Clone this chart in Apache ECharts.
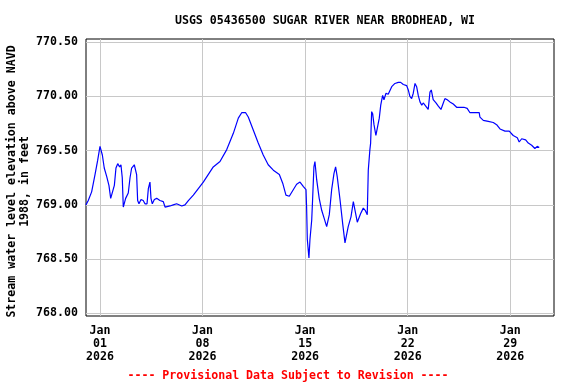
<!DOCTYPE html>
<html>
<head>
<meta charset="utf-8">
<script src="https://cdn.jsdelivr.net/npm/echarts@6/dist/echarts.min.js"></script>
<style>html,body{margin:0;padding:0;background:#fff}#c{width:576px;height:384px}</style>
</head>
<body>
<div id="c"></div>
<script>
// Time as day-of-January 2026 (1.0 = Jan 01 00:00), stage in feet
const dayOfJan = [0.04,0.20,0.43,0.66,0.84,1.00,1.07,1.16,1.29,1.46,1.61,1.73,1.84,1.98,2.09,2.21,2.34,2.43,2.52,2.59,2.66,2.75,2.93,3.05,3.16,3.34,3.44,3.50,3.57,3.66,3.80,3.95,4.07,4.21,4.30,4.41,4.48,4.57,4.71,4.87,5.09,5.32,5.44,5.55,5.78,6.00,6.23,6.58,6.80,7.03,7.37,7.71,8.05,8.73,9.19,9.65,10.10,10.44,10.67,10.94,11.12,11.46,11.80,12.14,12.48,12.83,13.24,13.47,13.69,13.92,14.19,14.42,14.65,14.87,15.06,15.10,15.15,15.26,15.33,15.45,15.51,15.60,15.67,15.79,15.96,16.13,16.29,16.47,16.65,16.81,16.97,17.08,17.19,17.38,17.56,17.72,17.94,18.13,18.29,18.42,18.56,18.65,18.79,18.97,19.10,19.24,19.31,19.42,19.47,19.54,19.61,19.70,19.83,19.92,20.06,20.16,20.29,20.38,20.52,20.67,20.91,21.13,21.36,21.52,21.70,21.93,22.04,22.15,22.27,22.38,22.50,22.61,22.72,22.84,22.96,23.06,23.18,23.29,23.40,23.52,23.61,23.74,23.93,24.09,24.27,24.43,24.54,24.70,24.88,25.11,25.34,25.57,25.84,26.06,26.25,26.59,26.88,26.93,27.16,27.50,27.84,28.07,28.30,28.64,28.93,29.20,29.48,29.61,29.78,30.05,30.23,30.46,30.68,30.84,30.98];
const stage = [769.00,769.04,769.12,769.28,769.41,769.54,769.55,769.46,769.34,769.26,769.18,769.06,769.05,769.18,769.34,769.38,769.35,769.37,769.25,768.98,768.97,769.06,769.11,769.25,769.34,769.37,769.38,769.28,769.04,769.01,769.05,769.04,769.01,769.01,769.15,769.21,769.06,769.01,769.05,769.06,769.04,769.03,768.98,768.97,768.99,769.00,769.01,768.99,769.00,769.04,769.09,769.15,769.21,769.35,769.40,769.51,769.66,769.80,769.85,769.85,769.81,769.69,769.57,769.46,769.37,769.32,769.28,769.20,769.09,769.08,769.14,769.19,769.21,769.17,769.14,768.98,768.68,768.51,768.68,768.86,769.05,769.35,769.40,769.23,769.06,768.95,768.88,768.80,768.91,769.14,769.29,769.35,769.26,769.05,768.83,768.65,768.80,768.89,769.03,769.04,768.84,768.83,768.92,768.97,768.95,768.91,769.32,769.51,769.57,769.86,769.84,769.74,769.64,769.65,769.80,769.92,770.01,769.97,770.03,770.02,770.09,770.12,770.13,770.13,770.11,770.10,770.06,770.00,769.98,770.03,770.12,770.09,770.01,769.95,769.92,769.94,769.92,769.91,769.88,770.04,770.06,769.97,769.94,769.91,769.88,769.94,769.98,769.97,769.95,769.93,769.90,769.90,769.90,769.89,769.85,769.85,769.85,769.81,769.78,769.77,769.76,769.74,769.70,769.68,769.68,769.64,769.62,769.58,769.61,769.60,769.57,769.55,769.52,769.54,769.53];
const xTickDays = [1, 8, 15, 22, 29];
const xTickLabels = ['Jan\n01\n2026', 'Jan\n08\n2026', 'Jan\n15\n2026', 'Jan\n22\n2026', 'Jan\n29\n2026'];
const yTicks = [768.0, 768.5, 769.0, 769.5, 770.0, 770.5];
const titleText = 'USGS 05436500 SUGAR RIVER NEAR BRODHEAD, WI';
const yName = 'Stream water level elevation above NAVD\n1988, in feet';
const footerText = '---- Provisional Data Subject to Revision ----';

const seriesData = dayOfJan.map((d, i) => [d, stage[i]]);

const FONT = 'DejaVu Sans Mono';
const FS = 11.6;

const chart = echarts.init(document.getElementById('c'), null, {renderer: 'canvas'});
chart.setOption({
  animation: false,
  backgroundColor: '#ffffff',
  title: [
    {text: titleText, left: 320, top: 10, textAlign: 'center',
     textStyle: {fontFamily: FONT, fontSize: FS, fontWeight: 'bold', color: '#000'}},
    {text: footerText, left: 'center', top: 365,
     textStyle: {fontFamily: FONT, fontSize: FS, fontWeight: 'bold', color: '#ff0000'}}
  ],
  grid: {left: 86, right: 22, top: 39, bottom: 68, containLabel: false, outerBoundsMode: 'none',
         show: true, borderColor: '#000', borderWidth: 1, backgroundColor: '#fff'},
  xAxis: {
    type: 'value',
    min: 0.045, max: 31.985,
    axisLine: {show: false},
    axisTick: {show: false, customValues: xTickDays},
    splitLine: {show: true, lineStyle: {color: '#c8c8c8', width: 1}},
    axisLabel: {
      customValues: xTickDays,
      formatter: v => { const i = xTickDays.findIndex(t => Math.abs(t - v) < 1e-6); return i >= 0 ? xTickLabels[i] : ''; },
      fontFamily: FONT, fontSize: FS, fontWeight: 'bold', color: '#000', lineHeight: 13, margin: 8
    }
  },
  yAxis: {
    type: 'value',
    min: 767.975, max: 770.530,
    name: yName, nameLocation: 'middle', nameRotate: 90, nameGap: 55, nameMoveOverlap: false,
    nameTextStyle: {fontFamily: FONT, fontSize: FS, fontWeight: 'bold', color: '#000', lineHeight: 13, align: 'center', padding: [0, 8, 0, 0]},
    axisLine: {show: false},
    axisTick: {show: false, customValues: yTicks},
    splitLine: {show: true, lineStyle: {color: '#c8c8c8', width: 1}},
    axisLabel: {
      customValues: yTicks,
      formatter: v => v.toFixed(2),
      fontFamily: FONT, fontSize: FS, fontWeight: 'bold', color: '#000', margin: 8
    }
  },
  series: [{
    type: 'line', data: seriesData, showSymbol: false, symbol: 'none',
    lineStyle: {color: '#0000ff', width: 1.2}, clip: true
  }]
});
</script>
</body>
</html>
